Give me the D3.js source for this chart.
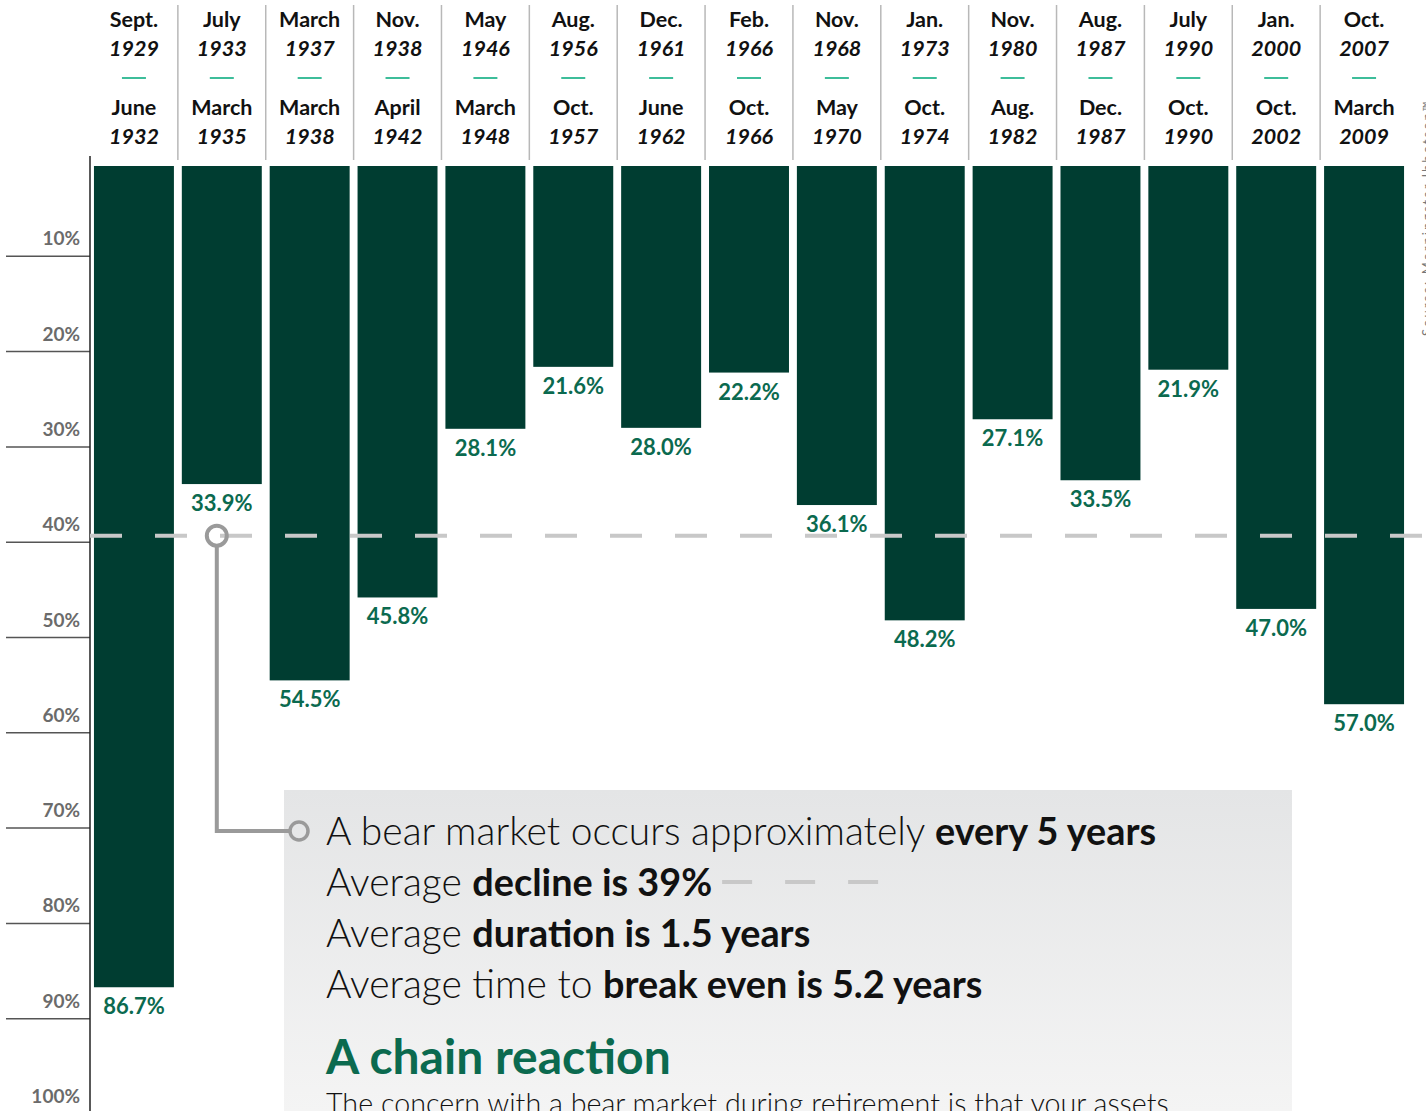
<!DOCTYPE html>
<html lang="en">
<head>
<meta charset="utf-8">
<title>Bear markets since 1929</title>
<script src="https://cdn.jsdelivr.net/npm/d3@7"></script>
<style>
  html, body { margin: 0; padding: 0; background: #fff; }
  body { font-family: Lato, "Open Sans", sans-serif; }
  svg { display: block; }
</style>
</head>
<body>
<script>

// data
var startMonth = ["Sept.","July","March","Nov.","May","Aug.","Dec.","Feb.","Nov.","Jan.","Nov.","Aug.","July","Jan.","Oct."];
var startYear  = ["1929","1933","1937","1938","1946","1956","1961","1966","1968","1973","1980","1987","1990","2000","2007"];
var endMonth   = ["June","March","March","April","March","Oct.","June","Oct.","May","Oct.","Aug.","Dec.","Oct.","Oct.","March"];
var endYear    = ["1932","1935","1938","1942","1948","1957","1962","1966","1970","1974","1982","1987","1990","2002","2009"];
var declines   = [86.7, 33.9, 54.5, 45.8, 28.1, 21.6, 28.0, 22.2, 36.1, 48.2, 27.1, 33.5, 21.9, 47.0, 57.0];
var yTicks     = [10, 20, 30, 40, 50, 60, 70, 80, 90, 100];
var avgDecline = 39;

var facts = [
  [["A bear market occurs approximately ", 300], ["every 5 years", 700]],
  [["Average ", 300], ["decline is 39%", 700]],
  [["Average ", 300], ["duration is 1.5 years", 700]],
  [["Average time to ", 300], ["break even is 5.2 years", 700]]
];

var width = 1426, height = 1111;
var darkGreen = "#003d31", labelGreen = "#0b6a4f", teal = "#3dbd9a";

var data = declines.map(function(d, i) {
  return { key: startMonth[i] + startYear[i], value: d, sm: startMonth[i], sy: startYear[i], em: endMonth[i], ey: endYear[i] };
});

var svg = d3.select("body").append("svg")
  .attr("width", width)
  .attr("height", height);

var x = d3.scaleBand()
  .domain(data.map(function(d) { return d.key; }))
  .range([90, 1408])
  .paddingInner(0.09)
  .paddingOuter(0.045);

var y = d3.scaleLinear()
  .domain([0, 100])
  .range([161, 1114]);

var step = x.step();

// gradient for annotation panel
var defs = svg.append("defs");
var grad = defs.append("linearGradient").attr("id", "panel").attr("x1", 0).attr("y1", 0).attr("x2", 0).attr("y2", 1);
grad.append("stop").attr("offset", "0%").attr("stop-color", "#e4e5e6");
grad.append("stop").attr("offset", "100%").attr("stop-color", "#f4f4f4");

// header separators
svg.selectAll("line.sep")
  .data(data.slice(1))
  .enter().append("line")
  .attr("class", "sep")
  .attr("x1", function(d) { return x(d.key) - step * 0.045; })
  .attr("x2", function(d) { return x(d.key) - step * 0.045; })
  .attr("y1", 5)
  .attr("y2", 160)
  .style("stroke", "#b8b8b8")
  .style("stroke-width", "1.5px");

// header labels
var head = svg.selectAll("g.head")
  .data(data)
  .enter().append("g")
  .attr("class", "head")
  .attr("transform", function(d) { return "translate(" + (x(d.key) + x.bandwidth() / 2) + ",0)"; })
  .style("text-anchor", "middle")
  .style("font-size", "21.5px")
  .style("font-weight", 700)
  .style("fill", "#111");

head.append("text").attr("y", 27).text(function(d) { return d.sm; });
head.append("text").attr("y", 56).style("font-style", "italic").text(function(d) { return d.sy; });
head.append("line")
  .attr("x1", -12).attr("x2", 12).attr("y1", 78).attr("y2", 78)
  .style("stroke", teal).style("stroke-width", "2px");
head.append("text").attr("y", 115).text(function(d) { return d.em; });
head.append("text").attr("y", 144).style("font-style", "italic").text(function(d) { return d.ey; });

// y axis: tick lines + labels
var ticks = svg.selectAll("g.tick")
  .data(yTicks)
  .enter().append("g")
  .attr("class", "tick")
  .attr("transform", function(d) { return "translate(0," + y(d) + ")"; });

ticks.append("line")
  .attr("x1", 6).attr("x2", 90)
  .style("stroke", "#555").style("stroke-width", "1.5px");

ticks.append("text")
  .attr("x", 80).attr("y", -11)
  .style("text-anchor", "end")
  .style("font-size", "19px")
  .style("font-weight", 700)
  .style("fill", "#6b6b6b")
  .text(function(d) { return d + "%"; });

svg.append("line")
  .attr("x1", 90).attr("x2", 90)
  .attr("y1", 156).attr("y2", height)
  .style("stroke", "#222").style("stroke-width", "1.5px");

// bars
svg.selectAll("rect.bar")
  .data(data)
  .enter().append("rect")
  .attr("class", "bar")
  .attr("x", function(d) { return x(d.key); })
  .attr("width", x.bandwidth())
  .attr("y", y(0) + 5)
  .attr("height", function(d) { return y(d.value) - y(0) - 5; })
  .style("fill", darkGreen);

// average decline line (over the bars, under the labels)
svg.append("line")
  .attr("x1", 90).attr("x2", width)
  .attr("y1", y(avgDecline) + 3).attr("y2", y(avgDecline) + 3)
  .style("stroke", "#c8c8c8")
  .style("stroke-width", "4px")
  .style("stroke-dasharray", "32,33");

// value labels
svg.selectAll("text.val")
  .data(data)
  .enter().append("text")
  .attr("class", "val")
  .attr("x", function(d) { return x(d.key) + x.bandwidth() / 2; })
  .attr("y", function(d) { return y(d.value) + 27; })
  .style("text-anchor", "middle")
  .style("font-size", "22px")
  .style("font-weight", 700)
  .style("fill", labelGreen)
  .text(function(d) { return d.value.toFixed(1) + "%"; });

// annotation panel
var panelX = 284, panelY = 790;
svg.append("rect")
  .attr("x", panelX).attr("y", panelY)
  .attr("width", 1008).attr("height", height - panelY)
  .style("fill", "url(#panel)");

// connector
var cx = x(data[1].key) + x.bandwidth() / 2 - 5;
var cy = y(avgDecline) + 3;
var lineY = 831;
svg.append("path")
  .attr("d", "M" + cx + "," + (cy + 10) + "V" + lineY + "H" + 289)
  .style("fill", "none")
  .style("stroke", "#9a9a9a")
  .style("stroke-width", "4px");
svg.append("circle")
  .attr("cx", cx).attr("cy", cy).attr("r", 10)
  .style("fill", "none").style("stroke", "#9a9a9a").style("stroke-width", "4px");
svg.append("circle")
  .attr("cx", 299).attr("cy", lineY).attr("r", 9)
  .style("fill", "none").style("stroke", "#9a9a9a").style("stroke-width", "3.5px");

// facts
var factText = svg.selectAll("text.fact")
  .data(facts)
  .enter().append("text")
  .attr("class", "fact")
  .attr("x", 326)
  .attr("y", function(d, i) { return 845 + i * 51; })
  .style("font-size", "39px")
  .style("fill", "#111");

factText.selectAll("tspan")
  .data(function(d) { return d; })
  .enter().append("tspan")
  .style("font-weight", function(d) { return d[1]; })
  .style("font-size", function(d) { return d[1] > 400 ? "37.8px" : null; })
  .text(function(d) { return d[0]; });

// small dashes after "decline is 39%"
var declineEnd = 326 + factText.nodes()[1].getComputedTextLength();
svg.selectAll("line.mini")
  .data([0, 1, 2])
  .enter().append("line")
  .attr("class", "mini")
  .attr("x1", function(d) { return declineEnd + 10 + d * 63; })
  .attr("x2", function(d) { return declineEnd + 40 + d * 63; })
  .attr("y1", 882).attr("y2", 882)
  .style("stroke", "#c8c8c8").style("stroke-width", "4px");

svg.append("text")
  .attr("x", 326).attr("y", 1074)
  .style("font-size", "48px")
  .style("font-weight", 700)
  .style("fill", labelGreen)
  .text("A chain reaction");

svg.append("text")
  .attr("x", 326).attr("y", 1114)
  .style("font-size", "28.7px")
  .style("font-weight", 300)
  .style("fill", "#111")
  .text("The concern with a bear market during retirement is that your assets");

// rotated source note at right edge
svg.append("text")
  .attr("transform", "translate(1432,336) rotate(-90)")
  .style("font-size", "13px")
  .style("letter-spacing", "2px")
  .style("fill", "#777")
  .text("Source: Morningstar Ibbotson\u2122");

</script>
</body>
</html>
